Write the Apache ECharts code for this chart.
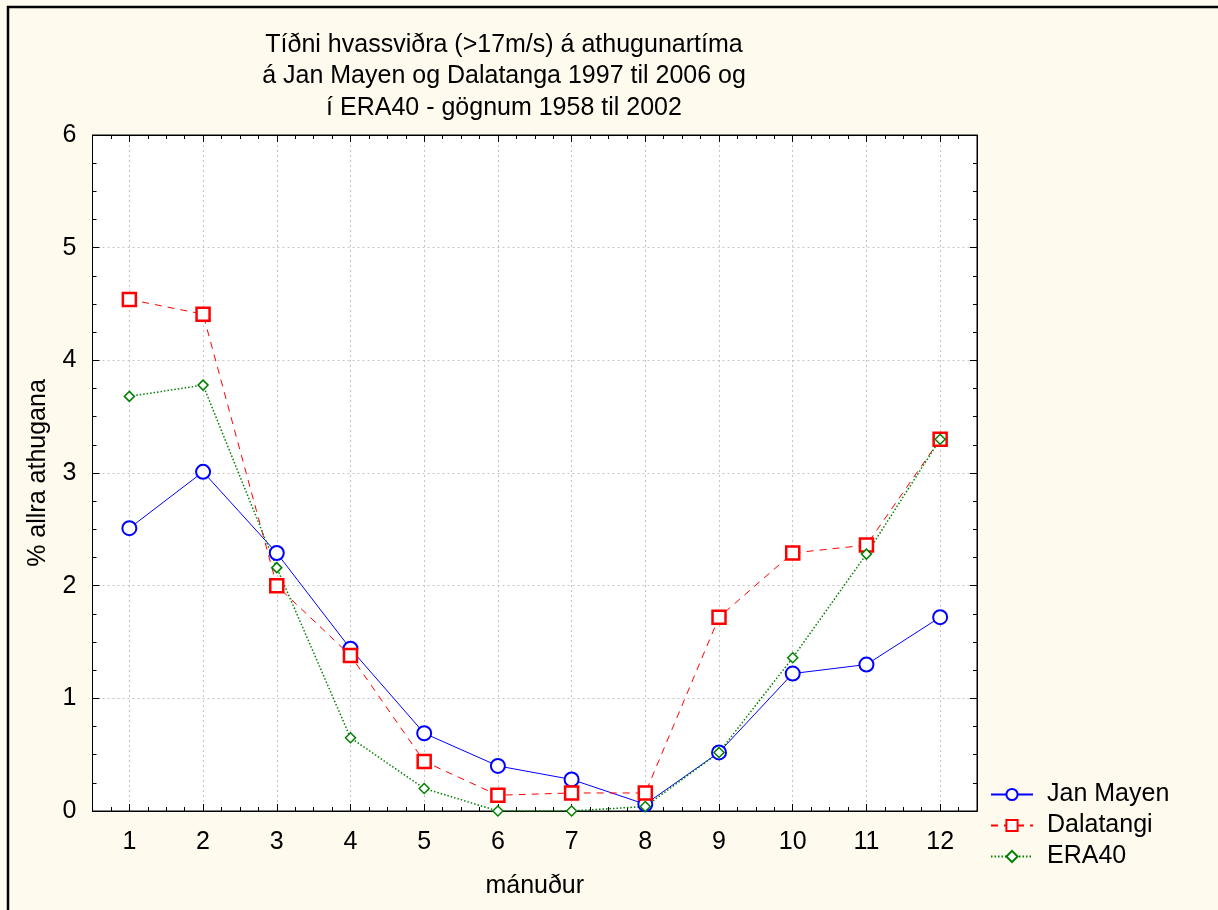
<!DOCTYPE html>
<html>
<head>
<meta charset="utf-8">
<script src="https://cdn.jsdelivr.net/npm/echarts@6/dist/echarts.min.js"></script>
<style>
html,body{margin:0;padding:0;background:#fffaee;}
#chart{width:1218px;height:910px;}
</style>
</head>
<body>
<div id="chart"></div>
<script>
const months = [1, 2, 3, 4, 5, 6, 7, 8, 9, 10, 11, 12];
const janMayen = [2.51, 3.01, 2.29, 1.44, 0.69, 0.40, 0.28, 0.06, 0.52, 1.22, 1.30, 1.72];
const dalatangi = [4.54, 4.41, 2.00, 1.38, 0.44, 0.14, 0.16, 0.16, 1.72, 2.29, 2.36, 3.30];
const era40 = [3.68, 3.78, 2.16, 0.65, 0.20, 0.00, 0.00, 0.04, 0.52, 1.36, 2.28, 3.30];
const seriesNames = ['Jan Mayen', 'Dalatangi', 'ERA40'];
const titleText = 'Tíðni hvassviðra (>17m/s) á athugunartíma\ná Jan Mayen og Dalatanga 1997 til 2006 og\ní ERA40 - gögnum 1958 til 2002';
const xName = 'mánuður';
const yName = '% allra athugana';

const FONT = 'Liberation Sans, Arial, sans-serif';
const FS = 25;
const zip = vals => months.map((m, i) => [m, vals[i]]);

const chart = echarts.init(document.getElementById('chart'), null, {renderer: 'canvas'});

function minorX(pos) {
  return {
    type: 'value', position: pos, min: 0.5, max: 12.5, interval: 0.25,
    axisLine: {show: true, lineStyle: {color: '#000', width: 1}},
    axisTick: {show: true, inside: true, length: 4, lineStyle: {color: '#000'}},
    axisLabel: {show: false},
    splitLine: {show: false}
  };
}
function majorX(pos, main) {
  return {
    type: 'value', position: pos, min: 0.5, max: 12.5,
    name: main ? xName : '', nameLocation: 'middle', nameGap: 63,
    nameTextStyle: {fontFamily: FONT, fontSize: FS, color: '#000'},
    axisLine: {show: true, lineStyle: {color: '#000', width: 1}},
    axisTick: {show: true, inside: true, length: 7, customValues: months, lineStyle: {color: '#000'}},
    axisLabel: {show: main, customValues: months, margin: 19, fontFamily: FONT, fontSize: FS, color: '#000'},
    splitLine: {show: main, lineStyle: {color: '#c4c4c4', type: [2, 3], width: 1}}
  };
}

const option = {
  backgroundColor: '#fffaee',
  animation: false,
  title: {
    text: titleText, left: 499, top: 24, textAlign: 'center',
    textStyle: {fontFamily: FONT, fontSize: FS, fontWeight: 'normal', color: '#000', lineHeight: 31.5}
  },
  grid: {
    left: 92.5, right: 241, top: 135, bottom: 99,
    show: true, backgroundColor: '#fff', borderColor: '#000', borderWidth: 1
  },
  legend: {
    orient: 'vertical', left: 985, top: 777, itemGap: 6, itemWidth: 42, itemHeight: 14,
    data: seriesNames,
    textStyle: {fontFamily: FONT, fontSize: FS, color: '#000', padding: [0, 0, 0, 9]}
  },
  graphic: [{
    type: 'rect', silent: true, z: 100,
    shape: {x: 8, y: 7, width: 1400, height: 1100},
    style: {fill: null, stroke: '#000', lineWidth: 2.5}
  }],
  xAxis: [majorX('bottom', true), minorX('bottom'), majorX('top', false), minorX('top')],
  yAxis: [{
    type: 'value', position: 'left', min: 0, max: 6, interval: 1,
    name: yName, nameLocation: 'middle', nameGap: 42, nameRotate: 90,
    nameTextStyle: {fontFamily: FONT, fontSize: FS, color: '#000'},
    axisLine: {show: true, lineStyle: {color: '#000'}},
    axisTick: {show: true, inside: true, length: 7, lineStyle: {color: '#000'}},
    minorTick: {show: true, splitNumber: 4, length: 4, lineStyle: {color: '#000'}},
    axisLabel: {margin: 16, fontFamily: FONT, fontSize: FS, color: '#000'},
    splitLine: {show: true, lineStyle: {color: '#c4c4c4', type: [2, 3], width: 1}}
  }, {
    type: 'value', position: 'right', min: 0, max: 6, interval: 1,
    axisLine: {show: true, lineStyle: {color: '#000'}},
    axisTick: {show: true, inside: true, length: 7, lineStyle: {color: '#000'}},
    minorTick: {show: true, splitNumber: 4, length: 4, lineStyle: {color: '#000'}},
    axisLabel: {show: false},
    splitLine: {show: false}
  }],
  series: [{
    name: seriesNames[0], type: 'line', data: zip(janMayen),
    symbol: 'circle', symbolSize: 14,
    lineStyle: {color: '#0000ff', width: 1, type: 'solid'},
    itemStyle: {color: '#fff', borderColor: '#0000ff', borderWidth: 2}
  }, {
    name: seriesNames[1], type: 'line', data: zip(dalatangi),
    symbol: 'rect', symbolSize: 13,
    lineStyle: {color: '#ff0000', width: 1, type: [7, 6]},
    itemStyle: {color: '#fff', borderColor: '#ff0000', borderWidth: 2.5}
  }, {
    name: seriesNames[2], type: 'line', data: zip(era40),
    symbol: 'diamond', symbolSize: 10,
    lineStyle: {color: '#008000', width: 1.5, type: [1.5, 2]},
    itemStyle: {color: '#fff', borderColor: '#008000', borderWidth: 1.5}
  }]
};
chart.setOption(option);
</script>
</body>
</html>
